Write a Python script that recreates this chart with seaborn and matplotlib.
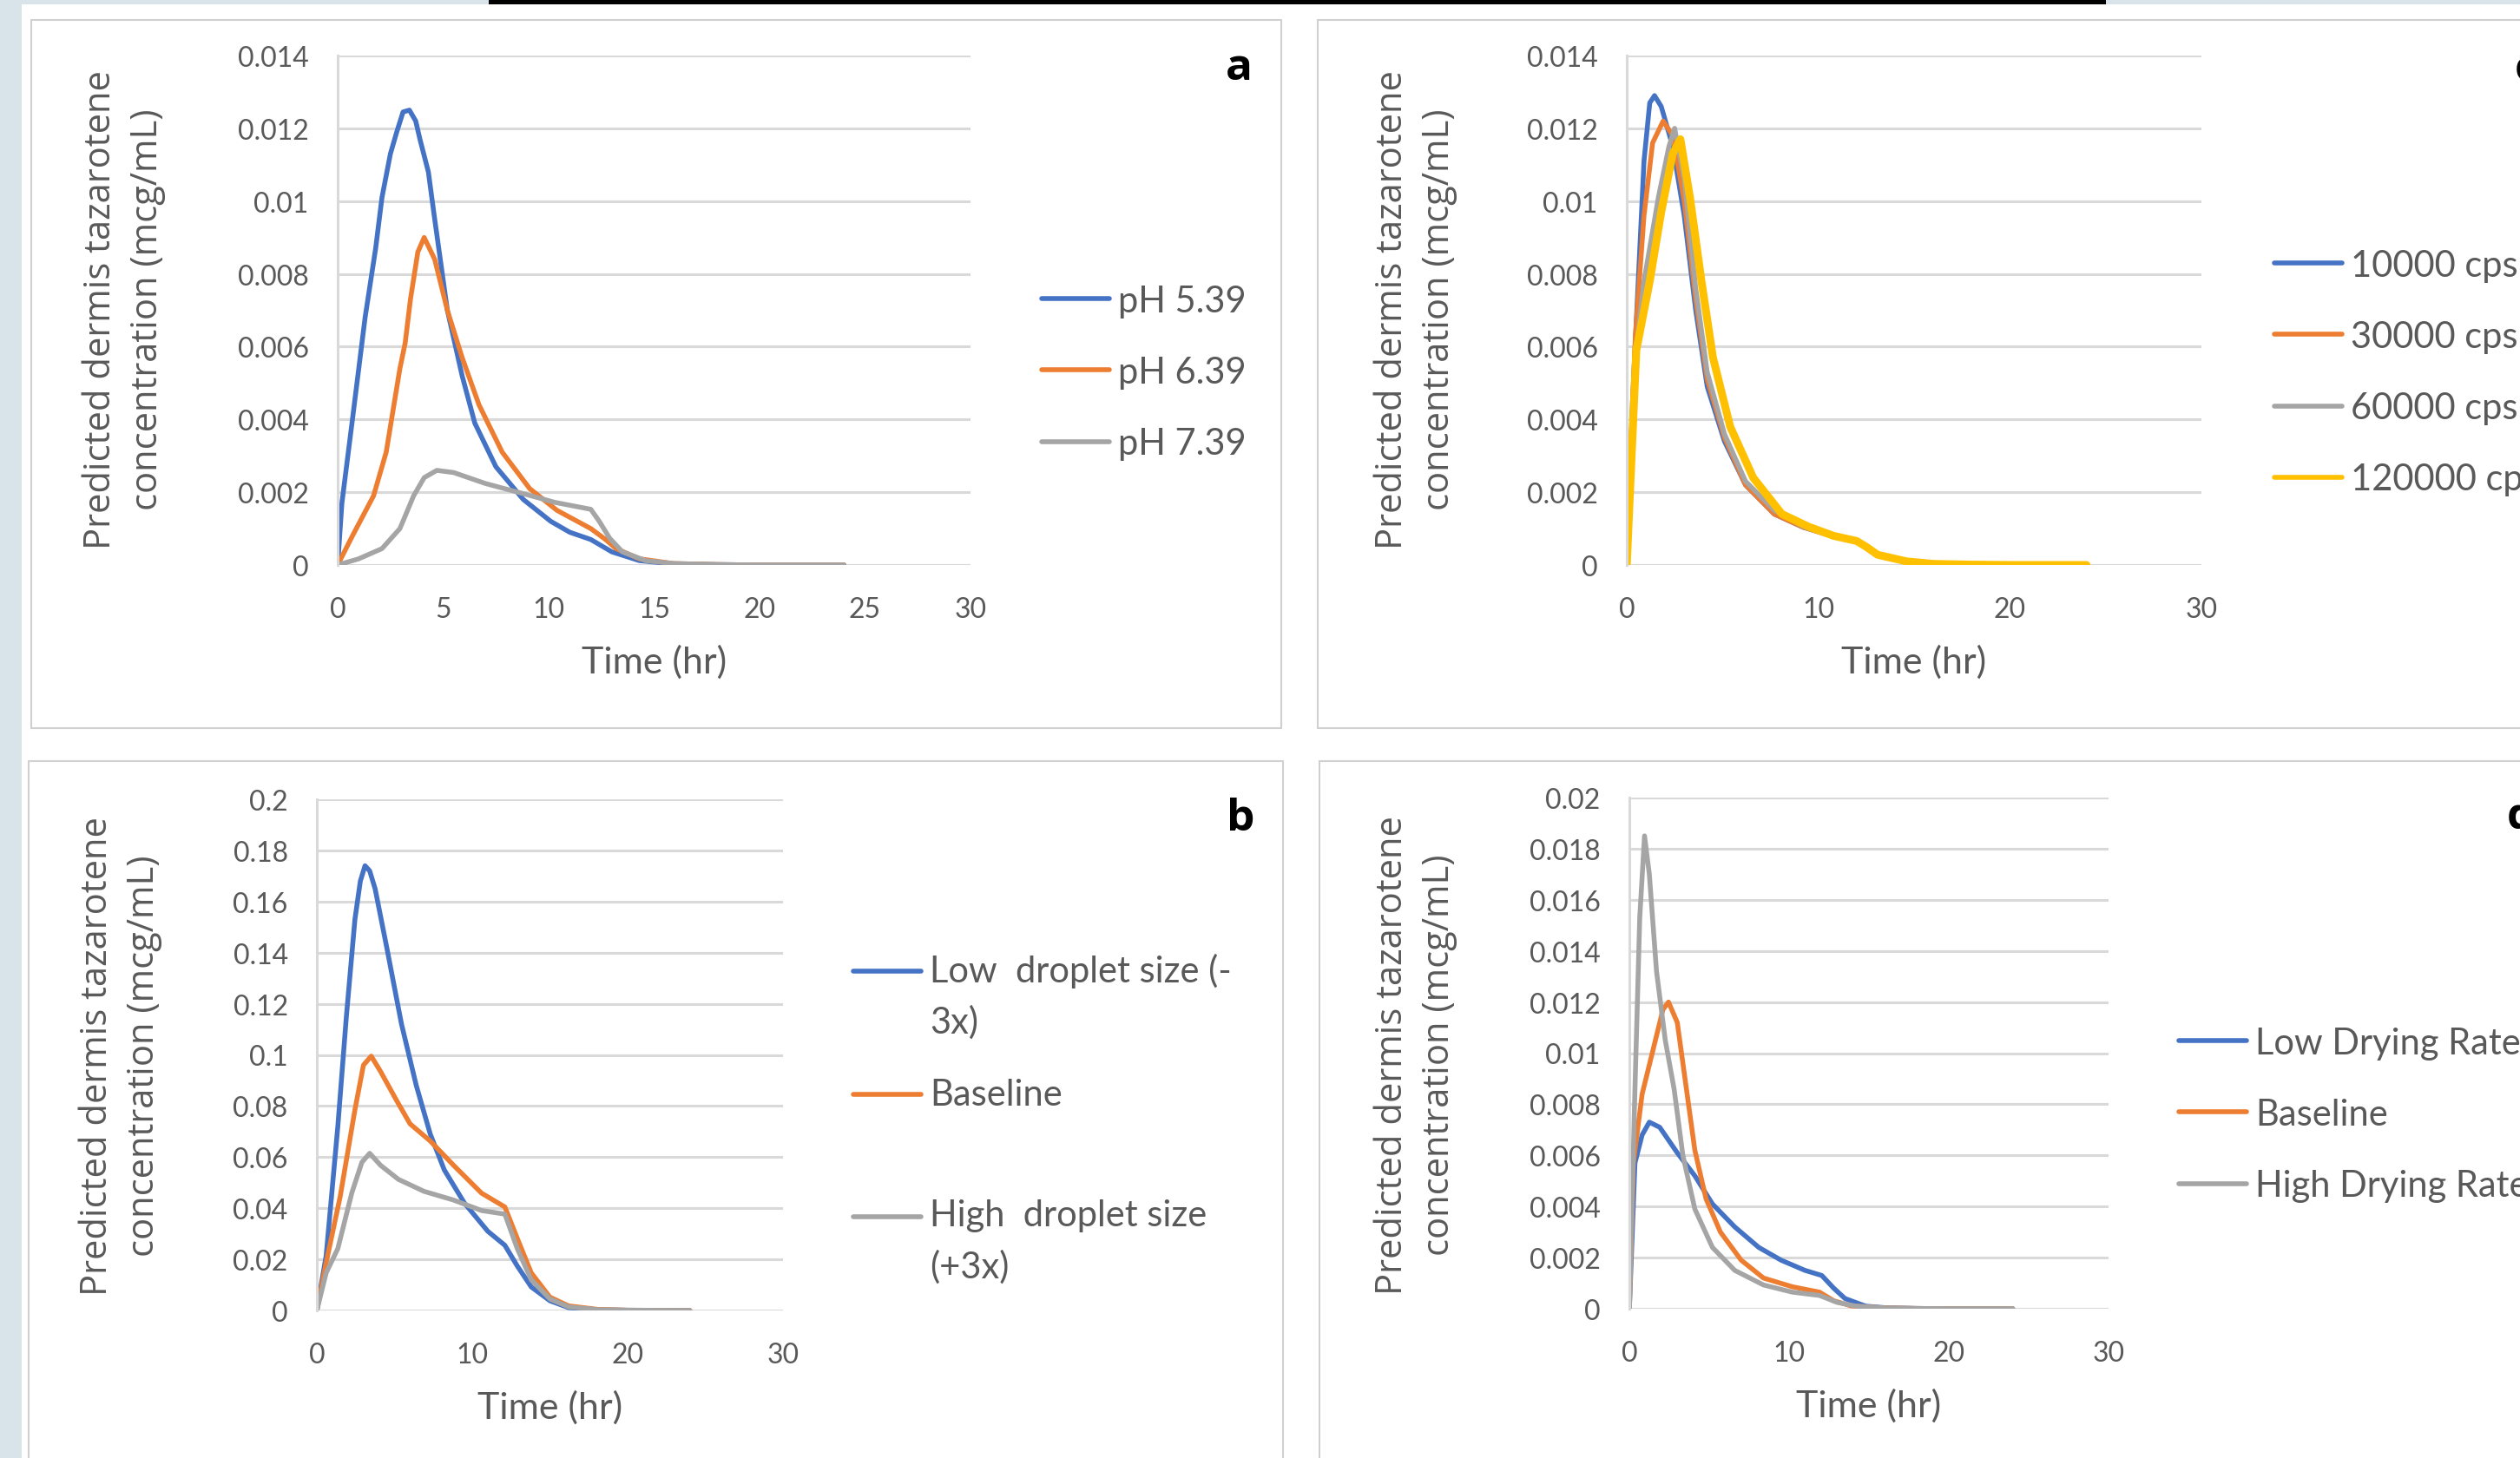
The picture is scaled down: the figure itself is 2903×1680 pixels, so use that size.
import numpy as np
import pandas as pd
import matplotlib.pyplot as plt
from matplotlib.patches import Rectangle
from matplotlib.ticker import MultipleLocator, FuncFormatter
import seaborn as sns

# ---- panel a: pH ----
a_labels = ["pH 5.39", "pH 6.39", "pH 7.39"]
a_t1 = [0, 0.2, 0.7, 1.0, 1.3, 1.8, 2.1, 2.5, 2.8, 3.1, 3.4, 3.7, 3.9, 4.3, 4.6, 5.2, 5.9, 6.5, 7.5, 8.8, 10.1, 11.0, 12.0, 13.0, 14.3, 15.9, 18, 20, 24]
a_c1 = [0, 0.0017, 0.0040, 0.0054, 0.0068, 0.0087, 0.0101, 0.0113, 0.0119, 0.01245, 0.0125, 0.0122, 0.0117, 0.0108, 0.0095, 0.0070, 0.0052, 0.0039, 0.0027, 0.0018, 0.0012, 0.0009, 0.0007, 0.00036, 0.00012, 0.00003, 0.00001, 0, 0]
a_t2 = [0, 0.7, 1.7, 2.3, 2.95, 3.2, 3.45, 3.8, 4.1, 4.6, 5.2, 5.9, 6.7, 7.8, 9.1, 10.4, 12.0, 12.7, 13.2, 14.3, 15.9, 18, 20, 24]
a_c2 = [0, 0.0008, 0.0019, 0.0031, 0.0054, 0.0061, 0.0073, 0.0086, 0.0090, 0.0084, 0.0070, 0.0057, 0.0044, 0.0031, 0.0021, 0.0015, 0.0010, 0.0007, 0.00045, 0.00017, 0.00004, 0.00001, 0, 0]
a_t3 = [0, 1.0, 2.1, 2.95, 3.6, 4.1, 4.7, 5.5, 7.0, 8.8, 10.3, 12.0, 12.4, 12.9, 13.5, 14.6, 15.9, 18, 20, 24]
a_c3 = [0, 0.00017, 0.00045, 0.0010, 0.0019, 0.0024, 0.0026, 0.00254, 0.00224, 0.00196, 0.00172, 0.00153, 0.0012, 0.00073, 0.00036, 0.00012, 0.00004, 0.00001, 0, 0]

# ---- panel c: viscosity ----
c_labels = ["10000 cps", "30000 cps", "60000 cps", "120000 cps"]
c_t1 = [0, 0.3, 0.6, 0.9, 1.2, 1.45, 1.8, 2.4, 3.0, 3.6, 4.2, 5.1, 6.2, 7.7, 9.2, 10.7, 11.9, 12.4, 13.0, 14.5, 16.0, 18, 20, 24]
c_c1 = [0, 0.0045, 0.0078, 0.0111, 0.0127, 0.0129, 0.0126, 0.0115, 0.0096, 0.0070, 0.0049, 0.0034, 0.0022, 0.0014, 0.00104, 0.0008, 0.00066, 0.00052, 0.00028, 0.0001, 0.00003, 0.00001, 0, 0]
c_t2 = [0, 0.45, 0.9, 1.35, 1.9, 2.4, 3.0, 3.6, 4.2, 5.1, 6.2, 7.7, 9.2, 10.7, 11.9, 12.4, 13.0, 14.5, 16.0, 18, 20, 24]
c_c2 = [0, 0.0063, 0.0096, 0.0116, 0.0122, 0.0118, 0.0100, 0.0073, 0.0051, 0.0035, 0.0022, 0.0014, 0.00104, 0.0008, 0.00066, 0.00052, 0.00028, 0.0001, 0.00003, 0.00001, 0, 0]
c_t3 = [0, 0.5, 0.9, 1.65, 2.2, 2.5, 3.0, 3.6, 4.2, 5.1, 6.2, 7.7, 9.2, 10.7, 11.9, 12.4, 13.0, 14.5, 16.0, 18, 20, 24]
c_c3 = [0, 0.0060, 0.0078, 0.0101, 0.0115, 0.0120, 0.0106, 0.0076, 0.0053, 0.0036, 0.0023, 0.0015, 0.00106, 0.0008, 0.00067, 0.00053, 0.00029, 0.0001, 0.00003, 0.00001, 0, 0]
c_t4 = [0, 0.5, 1.2, 1.8, 2.4, 2.8, 3.3, 3.9, 4.5, 5.4, 6.6, 8.1, 9.5, 10.8, 12.0, 12.5, 13.1, 14.6, 16.0, 18, 20, 24]
c_c4 = [0, 0.0059, 0.0078, 0.0097, 0.0113, 0.0117, 0.0101, 0.0078, 0.0057, 0.0038, 0.0024, 0.0014, 0.00105, 0.0008, 0.00066, 0.0005, 0.00028, 0.0001, 0.00003, 0.00001, 0, 0]

# ---- panel b: droplet size ----
b_labels = ["Low  droplet size (-\n3x)", "Baseline\n ", "High  droplet size\n(+3x)"]
b_t1 = [0, 0.6, 1.35, 1.9, 2.45, 2.8, 3.1, 3.4, 3.75, 4.5, 5.45, 6.4, 7.3, 8.2, 9.5, 11.0, 12.1, 12.9, 13.8, 15.0, 16.2, 18.1, 20, 24]
b_c1 = [0, 0.0215, 0.072, 0.115, 0.153, 0.168, 0.174, 0.172, 0.165, 0.142, 0.112, 0.088, 0.069, 0.055, 0.042, 0.031, 0.0255, 0.0174, 0.0092, 0.0038, 0.0011, 0.0003, 0.0001, 0]
b_t2 = [0, 0.6, 1.5, 2.45, 3.0, 3.5, 4.1, 5.1, 6.0, 7.3, 8.8, 10.6, 12.1, 12.9, 13.8, 15.0, 16.2, 18.1, 20, 24]
b_c2 = [0, 0.0187, 0.0445, 0.0785, 0.096, 0.0995, 0.0935, 0.0825, 0.073, 0.0663, 0.0568, 0.0459, 0.0405, 0.0282, 0.0147, 0.0052, 0.0018, 0.0004, 0.0001, 0]
b_t3 = [0, 0.6, 1.35, 2.25, 2.9, 3.4, 4.1, 5.25, 6.9, 8.8, 10.6, 12.1, 12.9, 13.8, 15.0, 16.2, 18.1, 20, 24]
b_c3 = [0, 0.0147, 0.0242, 0.046, 0.058, 0.0615, 0.0568, 0.0513, 0.0466, 0.0432, 0.0391, 0.0377, 0.0242, 0.012, 0.0045, 0.0014, 0.0003, 0.0001, 0]

# ---- panel d: drying rate ----
d_labels = ["Low Drying Rate", "Baseline", "High Drying Rate"]
d_t1 = [0, 0.35, 0.8, 1.25, 1.9, 3.0, 4.1, 5.2, 6.6, 8.1, 9.5, 11.0, 12.05, 12.8, 13.5, 14.8, 16, 18, 20, 24]
d_c1 = [0, 0.0057, 0.0068, 0.0073, 0.0071, 0.0061, 0.0052, 0.0041, 0.0032, 0.0024, 0.0019, 0.0015, 0.0013, 0.0008, 0.0004, 0.0001, 0.00004, 0.00001, 0, 0]
d_t2 = [0, 0.25, 0.8, 1.55, 2.1, 2.45, 3.0, 3.55, 4.1, 4.8, 5.7, 7.0, 8.4, 10.2, 11.9, 12.8, 13.9, 16, 18, 20, 24]
d_c2 = [0, 0.0057, 0.0084, 0.0103, 0.0117, 0.0120, 0.0112, 0.0087, 0.0062, 0.0043, 0.0030, 0.0019, 0.0012, 0.00086, 0.00065, 0.00031, 0.00011, 0.00003, 0.00001, 0, 0]
d_t3 = [0, 0.35, 0.65, 0.95, 1.25, 1.7, 2.25, 2.8, 3.35, 4.1, 5.2, 6.6, 8.4, 10.2, 11.9, 13.0, 14.2, 16, 18, 20, 24]
d_c3 = [0, 0.0086, 0.0153, 0.0185, 0.0170, 0.0132, 0.0105, 0.0086, 0.0060, 0.0039, 0.0024, 0.0015, 0.00093, 0.00065, 0.00052, 0.00025, 0.0001, 0.00003, 0.00001, 0, 0]

BLUE, ORANGE, GRAY, YELLOW = "#4472C4", "#ED7D31", "#A5A5A5", "#FFC000"
TXT = "#595959"
GRID = "#D9D9D9"
W, H = 2903, 1681

sns.set_theme(style="white")
plt.rcParams['font.family'] = ['Lato', 'DejaVu Sans']

fig = plt.figure(figsize=(W / 100, H / 100), dpi=100)
fig.patch.set_facecolor("white")


def px_rect(x0, y0, x1, y1, **kw):
    # rectangle given in pixel coords (top-left origin)
    r = Rectangle((x0 / W, 1 - y1 / H), (x1 - x0) / W, (y1 - y0) / H,
                  transform=fig.transFigure, **kw)
    fig.add_artist(r)


# page background bits
px_rect(0, 0, 25, H, facecolor="#D9E3EA", edgecolor="none", zorder=-5)
px_rect(0, 0, W, 6, facecolor="#D9E3EA", edgecolor="none", zorder=-5)
px_rect(563, 0, 2426, 6, facecolor="black", edgecolor="none", zorder=-4)
for box in [(36, 24, 1476, 840), (1518, 24, 2915, 840), (33, 878, 1478, 1695), (1520, 878, 2915, 1695)]:
    px_rect(*box, facecolor="white", edgecolor="#D0D0D0", linewidth=1.5, zorder=-3)


def make_df(times, concs, labels):
    parts = [pd.DataFrame({"t": t, "c": c, "s": lab}) for t, c, lab in zip(times, concs, labels)]
    return pd.concat(parts, ignore_index=True)


def panel(ax_px, df, labels, colors, ymax, ystep, xstep, ylab_px, leg_px, label_sp, letter, letter_px):
    x0, y0, x1, y1 = ax_px
    ax = fig.add_axes([x0 / W, 1 - y1 / H, (x1 - x0) / W, (y1 - y0) / H])
    ax.set_facecolor("none")
    sns.lineplot(data=df, x="t", y="c", hue="s", hue_order=labels, palette=colors,
                 linewidth=4, errorbar=None, legend=False, ax=ax)
    ax.set_xlim(0, 30)
    ax.set_ylim(0, ymax)
    ax.xaxis.set_major_locator(MultipleLocator(xstep))
    ax.yaxis.set_major_locator(MultipleLocator(ystep))
    ax.yaxis.set_major_formatter(FuncFormatter(lambda v, p: "%g" % round(v, 6)))
    ax.grid(axis="y", color=GRID, linewidth=2.2)
    ax.grid(axis="x", visible=False)
    ax.set_axisbelow(True)
    for s in ["top", "right", "bottom"]:
        ax.spines[s].set_visible(False)
    ax.spines["left"].set_color(GRID)
    ax.spines["left"].set_linewidth(2.2)
    ax.tick_params(axis="both", length=0, labelsize=23, labelcolor=TXT)
    ax.tick_params(axis="x", pad=26)
    ax.tick_params(axis="y", pad=24)

    ax.set_xlabel("Time (hr)", fontsize=31, color=TXT)
    ax.xaxis.label.set_va("center")
    ax.xaxis.set_label_coords(0.5, -111 / (y1 - y0))
    ax.set_ylabel("")
    fig.text(ylab_px[0] / W, 1 - ylab_px[1] / H,
             "Predicted dermis tazarotene\nconcentration (mcg/mL)",
             rotation=90, ha="center", va="center", multialignment="center",
             fontsize=30, color=TXT, family=["Open Sans", "DejaVu Sans"], linespacing=1.4)

    leg = ax.legend(ax.lines[:len(labels)], labels, loc="center left",
                    bbox_to_anchor=(leg_px[0] / W, 1 - leg_px[1] / H),
                    bbox_transform=fig.transFigure, frameon=False, borderpad=0,
                    borderaxespad=0, handlelength=1.87, handletextpad=0.25,
                    labelspacing=label_sp, prop={"family": "Lato", "size": 30})
    for t in leg.get_texts():
        t.set_color(TXT)
        t.set_linespacing(1.6)
    for h, lab in zip(leg.legend_handles, labels):
        h.set_linewidth(4)
        if "\n" in lab:
            h.set_ydata(np.asarray(h.get_ydata()) + 21)

    fig.text(letter_px[0] / W, 1 - letter_px[1] / H, letter, fontsize=37,
             fontweight="bold", color="black", ha=letter_px[2], va="baseline",
             family=["Open Sans", "DejaVu Sans"])
    return ax


ax_a = panel((389, 65, 1118, 652), make_df([a_t1, a_t2, a_t3], [a_c1, a_c2, a_c3], a_labels),
             a_labels, [BLUE, ORANGE, GRAY], 0.014, 0.002, 5, (143, 357), (1200, 430),
             1.06, "a", (1427, 92, "center"))
ax_c = panel((1874, 65, 2536, 652),
             make_df([c_t1, c_t2, c_t3, c_t4], [c_c1, c_c2, c_c3, c_c4], c_labels),
             c_labels, [BLUE, ORANGE, GRAY, YELLOW], 0.014, 0.002, 10, (1631, 357), (2620, 430),
             1.06, "c", (2897, 93, "left"))
ax_c.lines[3].set_linewidth(6.5)
ax_b = panel((365, 922, 902, 1511), make_df([b_t1, b_t2, b_t3], [b_c1, b_c2, b_c3], b_labels),
             b_labels, [BLUE, ORANGE, GRAY], 0.2, 0.02, 10, (139, 1217), (983, 1289),
             1.08, "b", (1429, 957, "center"))
ax_d = panel((1877, 920, 2429, 1509), make_df([d_t1, d_t2, d_t3], [d_c1, d_c2, d_c3], d_labels),
             d_labels, [BLUE, ORANGE, GRAY], 0.02, 0.002, 10, (1631, 1216), (2510, 1285),
             1.06, "d", (2888, 955, "left"))

fig.savefig("out.png", dpi=100)
